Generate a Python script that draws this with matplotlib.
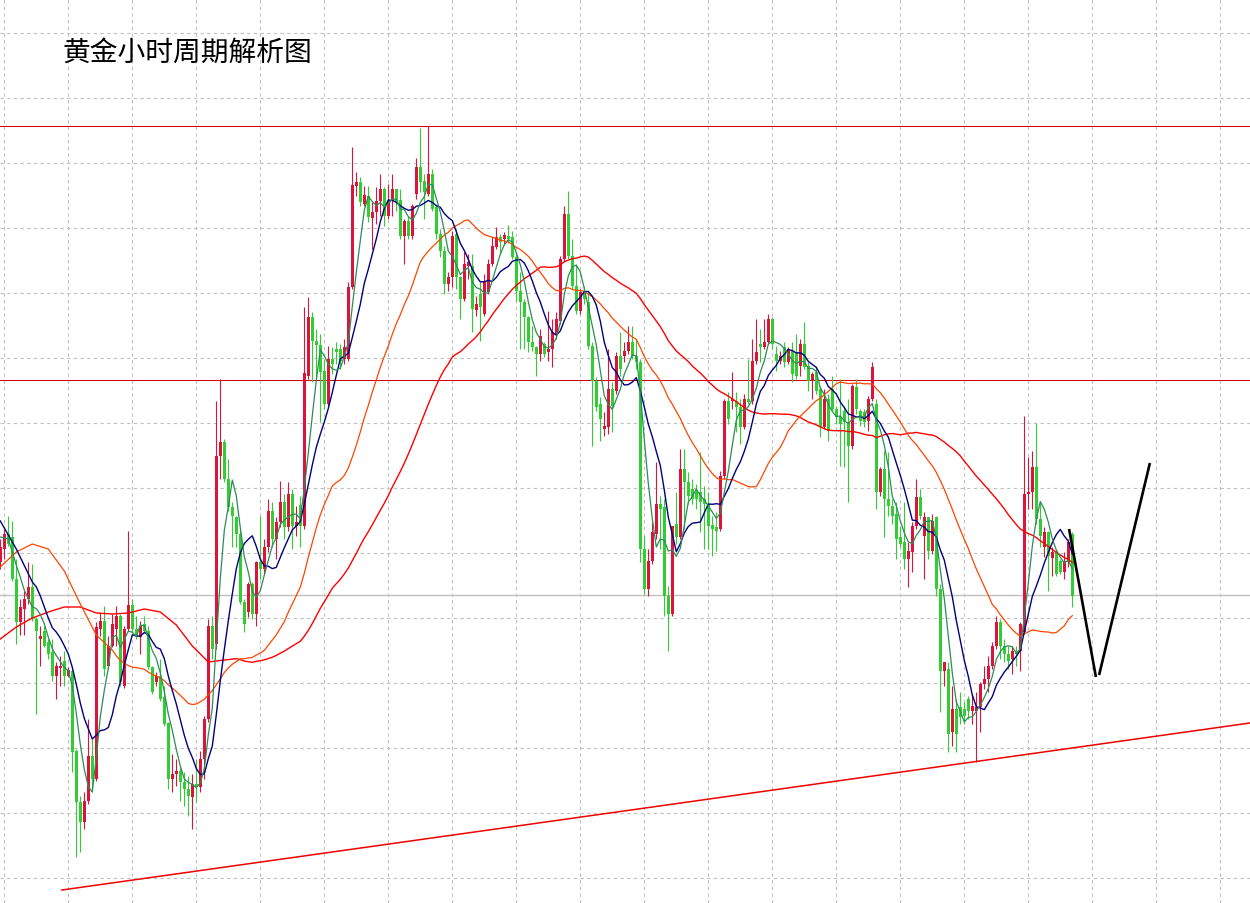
# ================================================================
# 0. Section: Imports
# ================================================================
import numpy as np
import pandas as pd
import matplotlib
matplotlib.use("Agg")
import matplotlib.pyplot as plt

plt.rcParams['font.family'] = ['Noto Sans CJK SC', 'DejaVu Sans']


# ================================================================
# 1. Section: Data (hourly candles, price units of the chart)
# ================================================================
opens = [
    437, 450, 465, 462, 420, 377, 390, 400, 412, 380,
    360, 368, 357, 347, 323, 331, 338, 323, 328, 248,
    197, 177, 198, 243, 220, 370, 378, 333, 353, 370,
    383, 313, 370, 394, 370, 362, 375, 368, 332, 317,
    323, 302, 276, 220, 225, 228, 217, 210, 202, 215,
    212, 240, 280, 373, 355, 543, 557, 520, 492, 482,
    465, 397, 387, 415, 385, 437, 430, 452, 488, 460,
    477, 497, 472, 505, 473, 494, 473, 623, 682, 658,
    654, 628, 595, 640, 650, 650, 640, 640, 712, 813,
    817, 795, 803, 781, 787, 798, 810, 783, 798, 810,
    799, 763, 778, 763, 805, 832, 818, 805, 825, 792,
    765, 748, 715, 722, 765, 722, 700, 733, 733, 689,
    705, 685, 707, 735, 752, 762, 760, 763, 762, 742,
    708, 697, 682, 657, 652, 645, 655, 647, 650, 665,
    678, 740, 785, 743, 713, 688, 707, 697, 653, 618,
    595, 570, 572, 610, 608, 643, 643, 648, 657, 643,
    637, 450, 410, 438, 465, 495, 492, 403, 385, 475,
    462, 530, 517, 510, 507, 507, 500, 495, 474, 472,
    470, 523, 598, 598, 598, 592, 572, 600, 598, 638,
    655, 652, 657, 680, 645, 638, 652, 637, 648, 647,
    633, 655, 633, 618, 627, 610, 572, 600, 610, 590,
    582, 588, 577, 553, 612, 588, 587, 578, 600, 595,
    507, 530, 500, 493, 485, 462, 457, 440, 447, 473,
    502, 463, 482, 448, 482, 410, 328, 330, 267, 290,
    292, 290, 300, 288, 288, 292, 315, 320, 333, 353,
    377, 353, 345, 340, 348, 348, 367, 505, 507, 532,
    480, 452, 467, 441, 447, 438, 427, 437, 465,
]
highs = [
    460, 470, 483, 478, 440, 400, 408, 437, 435, 382,
    373, 373, 360, 360, 337, 343, 348, 332, 332, 250,
    203, 207, 280, 260, 377, 387, 393, 363, 385, 393,
    385, 373, 468, 400, 383, 378, 383, 373, 333, 327,
    340, 313, 277, 245, 240, 233, 227, 223, 225, 240,
    248, 283, 380, 383, 598, 620, 560, 540, 497, 483,
    470, 400, 417, 417, 438, 483, 460, 500, 497, 482,
    518, 505, 517, 510, 493, 503, 692, 702, 687, 670,
    665, 640, 653, 652, 657, 655, 660, 717, 852, 827,
    822, 813, 813, 797, 812, 825, 812, 815, 825, 810,
    810, 780, 783, 795, 841, 871, 825, 873, 830, 795,
    770, 753, 727, 768, 770, 723, 747, 745, 745, 703,
    717, 725, 740, 762, 772, 765, 767, 774, 768, 747,
    727, 700, 683, 673, 653, 670, 657, 688, 680, 687,
    743, 793, 808, 760, 735, 710, 713, 707, 657, 622,
    602, 587, 650, 617, 647, 667, 657, 673, 673, 660,
    640, 463, 450, 477, 537, 503, 500, 413, 473, 507,
    550, 550, 527, 520, 515, 547, 513, 507, 483, 487,
    528, 600, 607, 627, 607, 600, 605, 640, 660, 680,
    670, 680, 685, 682, 653, 648, 657, 652, 657, 665,
    660, 677, 637, 627, 633, 613, 610, 605, 623, 593,
    620, 593, 600, 615, 620, 590, 590, 603, 637, 600,
    532, 548, 547, 500, 497, 473, 497, 457, 477, 520,
    510, 487, 482, 485, 483, 415, 337, 337, 313, 300,
    307, 297, 303, 305, 307, 317, 333, 343, 357, 383,
    380, 360, 353, 353, 353, 377, 583, 542, 548, 576,
    497, 472, 468, 452, 449, 440, 447, 460, 467,
]
lows = [
    430, 440, 453, 418, 355, 364, 364, 395, 378, 285,
    333, 352, 340, 318, 300, 313, 313, 322, 227, 142,
    147, 170, 195, 207, 218, 363, 323, 330, 352, 353,
    313, 311, 368, 367, 360, 345, 367, 330, 305, 313,
    298, 273, 210, 207, 213, 198, 193, 183, 170, 197,
    207, 220, 277, 340, 350, 520, 517, 488, 452, 452,
    395, 367, 382, 380, 373, 420, 425, 447, 452, 440,
    472, 460, 468, 450, 463, 452, 470, 620, 617, 620,
    577, 590, 592, 625, 635, 630, 635, 638, 710, 803,
    793, 793, 777, 750, 775, 783, 773, 780, 783, 788,
    760, 735, 760, 760, 800, 807, 780, 803, 788, 760,
    742, 705, 708, 712, 710, 680, 698, 720, 667, 683,
    658, 683, 705, 733, 750, 745, 755, 756, 740, 698,
    650, 650, 647, 648, 623, 638, 642, 638, 632, 660,
    675, 738, 740, 710, 685, 685, 695, 650, 553, 588,
    558, 563, 565, 567, 605, 623, 637, 645, 640, 630,
    437, 405, 403, 435, 460, 450, 383, 348, 383, 455,
    460, 470, 495, 495, 490, 467, 450, 450, 443, 448,
    468, 520, 575, 590, 567, 555, 570, 595, 595, 635,
    637, 650, 655, 650, 628, 635, 632, 635, 617, 620,
    623, 630, 608, 600, 605, 562, 570, 558, 588, 575,
    533, 532, 497, 550, 585, 573, 572, 568, 598, 490,
    503, 462, 483, 475, 440, 452, 430, 412, 427, 470,
    480, 420, 440, 445, 403, 287, 313, 247, 253, 247,
    275, 275, 280, 275, 237, 267, 310, 307, 330, 350,
    340, 337, 330, 325, 333, 328, 365, 490, 490, 475,
    452, 442, 408, 423, 423, 425, 420, 432, 392,
]
closes = [
    452, 465, 455, 420, 377, 392, 400, 412, 380, 368,
    363, 353, 345, 323, 333, 333, 323, 329, 247, 197,
    177, 198, 243, 220, 372, 378, 330, 353, 375, 383,
    317, 370, 394, 370, 362, 373, 368, 332, 307, 323,
    300, 275, 220, 225, 228, 217, 210, 203, 215, 212,
    240, 280, 373, 350, 543, 557, 520, 492, 483, 465,
    397, 375, 415, 385, 437, 430, 452, 488, 460, 477,
    497, 472, 505, 473, 477, 473, 626, 682, 658, 654,
    627, 595, 640, 635, 647, 638, 652, 712, 814, 817,
    797, 804, 782, 787, 798, 810, 783, 798, 810, 798,
    763, 778, 763, 793, 832, 817, 807, 825, 790, 765,
    748, 715, 722, 763, 722, 700, 735, 737, 690, 695,
    692, 717, 735, 753, 762, 757, 764, 760, 742, 708,
    697, 682, 657, 652, 645, 663, 645, 650, 667, 680,
    740, 785, 743, 713, 688, 707, 700, 653, 618, 592,
    580, 573, 610, 593, 643, 630, 648, 657, 643, 637,
    450, 410, 438, 467, 495, 490, 403, 385, 473, 462,
    530, 517, 503, 500, 500, 497, 495, 473, 470, 468,
    523, 598, 580, 600, 592, 572, 600, 597, 638, 647,
    652, 657, 680, 655, 638, 643, 637, 650, 625, 623,
    655, 632, 618, 625, 608, 572, 600, 568, 590, 582,
    575, 577, 553, 613, 590, 578, 577, 600, 632, 507,
    530, 500, 493, 483, 460, 455, 440, 448, 473, 502,
    483, 482, 448, 478, 410, 328, 337, 265, 290, 265,
    282, 283, 288, 293, 292, 315, 320, 333, 353, 377,
    353, 345, 338, 348, 345, 375, 505, 507, 532, 480,
    463, 467, 443, 447, 425, 427, 438, 457, 403,
]

# moving-average values at the left edge (every few candles)
ma5_head = [462, 460]                                   # candles 0, 2
ma10_head = [478, 450, 417]                             # candles 0, 4, 8
ma30_head = [432, 447, 455, 450, 428, 395, 364, 349]    # candles 0..28, step 4
ma60_head = [360, 372, 381, 387, 392, 392, 386, 385,
             386, 390, 387, 374, 353, 337, 339]         # candles 0..56, step 4

# drawn levels and annotations
resistance_levels = [873, 619]
pivot_level = 404
trend_x = [15.4, 312.4]
trend_y = [109, 276]
forecast_x = [[267.2, 273.9], [274.7, 287.4]]
forecast_y = [[470, 322], [324, 536]]

title = '黄金小时周期解析图'


# ================================================================
# 2. Section: Figure
# ================================================================
fig = plt.figure(figsize=(12.5, 9.04), dpi=100)
ax = fig.add_axes([0, 0, 1, 1])
ax.set_xlim(-0.075, 312.425)
ax.set_ylim(96, 1000)

# dashed grid, no axes decoration
ax.set_xticks(np.arange(0.925, 313, 16))
ax.set_yticks(np.arange(121, 1000, 65))
ax.grid(True, color='#c0c0c0', ls=(0, (3, 3)), lw=0.8)
ax.set_axisbelow(True)
ax.tick_params(length=0, labelbottom=False, labelleft=False)
for s in ax.spines.values(): s.set_visible(False)

# horizontal levels
for lvl in resistance_levels: ax.axhline(lvl, color='#d40000', lw=0.75, zorder=2)
ax.axhline(pivot_level, color='#c0c0c0', lw=1.0, zorder=2)


# ================================================================
# 3. Section: Candles
# ================================================================
o = np.array(opens, float); c = np.array(closes, float)
h = np.maximum(np.array(highs, float), np.maximum(o, c))
l = np.minimum(np.array(lows, float), np.minimum(o, c))
idx = np.arange(len(c))
cols = np.where(c >= o, '#dc143c', '#32cd32')

ax.vlines(idx, l, h, colors=cols, lw=0.8, zorder=3)
ax.bar(idx, np.maximum(np.abs(c - o), 1.2), bottom=np.minimum(o, c), width=0.75,
       color=cols, lw=0, zorder=3)


# ================================================================
# 4. Section: Moving averages
# ================================================================
def draw_ma(period, head, step, color, lw):
    ma = pd.Series(c).rolling(period).mean().to_numpy()
    start = period - 1
    xs = np.r_[np.arange(len(head)) * step, idx[start:]]
    ys = np.r_[head, ma[start:]]
    ax.plot(xs, ys, color=color, lw=lw, zorder=4)

draw_ma(60, ma60_head, 4, '#ff0000', 1.0)
draw_ma(30, ma30_head, 4, '#ff4500', 0.9)
draw_ma(10, ma10_head, 4, '#000080', 1.0)
draw_ma(5, ma5_head, 2, '#2e8b57', 0.9)


# ================================================================
# 5. Section: Annotations
# ================================================================
ax.plot(trend_x, trend_y, color='#ee0000', lw=1.1, zorder=5)
for fx, fy in zip(forecast_x, forecast_y):
    ax.plot(fx, fy, color='black', lw=1.9, solid_capstyle='butt', zorder=5)

fig.text(62 / 1250, 1 - 53 / 904, title, fontsize=20, ha='left', va='center', color='black')

fig.savefig('out.png', dpi=100)
